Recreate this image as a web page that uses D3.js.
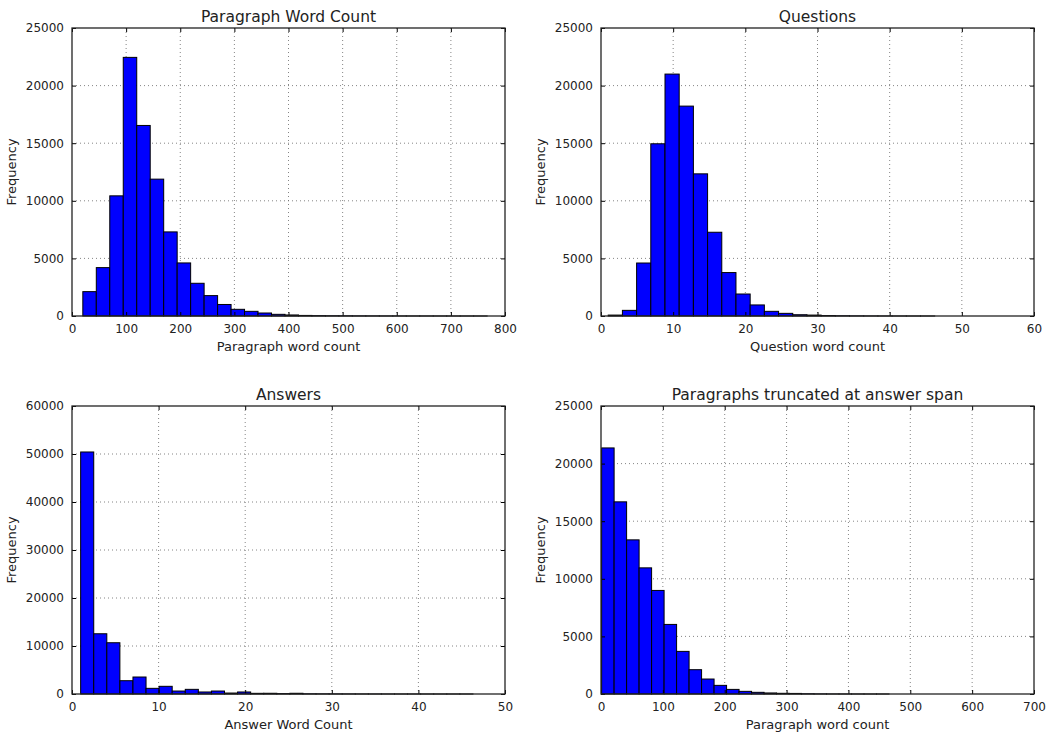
<!DOCTYPE html>
<html>
<head>
<meta charset="utf-8">
<script src="https://cdn.jsdelivr.net/npm/d3@7"></script>
<style>
  body { margin: 0; background: #fff; }
  svg text { font-family: "DejaVu Sans", sans-serif; fill: #222; }
</style>
</head>
<body>
<div id="chart"></div>
<script>
// histogram counts (30 bins each)
const paraCounts = [2115, 4200, 10430, 22450, 16540, 11880, 7300, 4606, 2840, 1770,
  1000, 580, 405, 260, 145, 90, 50, 30, 20, 15, 10, 8, 5, 4, 3, 2, 2, 1, 1, 1];
const questionCounts = [80, 490, 4600, 14950, 21000, 18220, 12340, 7270, 3770, 1910,
  960, 405, 230, 110, 80, 40, 20, 10, 5, 3, 2, 1, 1, 0, 0, 0, 0, 0, 0, 0];
const answerCounts = [50420, 12550, 10680, 2770, 3540, 1180, 1600, 620, 970, 420,
  620, 200, 420, 140, 150, 80, 150, 40, 30, 20, 15, 10, 8, 5, 4, 3, 2, 1, 1, 1];
const truncCounts = [21360, 16680, 13380, 10950, 8990, 6040, 3700, 2110, 1300, 750,
  400, 230, 145, 90, 60, 50, 20, 10, 5, 3, 2, 1, 1, 0, 0, 0, 0, 0, 0, 0];

// bin start and bin width per panel
const paraBins = [20, 24.9];
const questionBins = [1, 1.967];
const answerBins = [1, 1.51];
const truncBins = [1, 20.2];

const panels = [
  {title: "Paragraph Word Count", xlabel: "Paragraph word count", counts: paraCounts, bins: paraBins,
   xmax: 800, xticks: [0,100,200,300,400,500,600,700,800], ymax: 25000, yticks: [0,5000,10000,15000,20000,25000],
   left: 72, top: 28},
  {title: "Questions", xlabel: "Question word count", counts: questionCounts, bins: questionBins,
   xmax: 60, xticks: [0,10,20,30,40,50,60], ymax: 25000, yticks: [0,5000,10000,15000,20000,25000],
   left: 601, top: 28},
  {title: "Answers", xlabel: "Answer Word Count", counts: answerCounts, bins: answerBins,
   xmax: 50, xticks: [0,10,20,30,40,50], ymax: 60000, yticks: [0,10000,20000,30000,40000,50000,60000],
   left: 72, top: 406},
  {title: "Paragraphs truncated at answer span", xlabel: "Paragraph word count", counts: truncCounts, bins: truncBins,
   xmax: 700, xticks: [0,100,200,300,400,500,600,700], ymax: 25000, yticks: [0,5000,10000,15000,20000,25000],
   left: 601, top: 406}
];

const W = 1047, H = 734;
const pw = 433, ph = 288;

const svg = d3.select("#chart").append("svg")
  .attr("width", W)
  .attr("height", H);

panels.forEach(p => {
  const g = svg.append("g").attr("transform", "translate(" + p.left + "," + p.top + ")");

  const x = d3.scaleLinear().domain([0, p.xmax]).range([0, pw]);
  const y = d3.scaleLinear().domain([0, p.ymax]).range([ph, 0]);

  // dotted grid
  g.append("g").selectAll("line.vg").data(p.xticks.slice(1, -1)).join("line")
    .attr("x1", d => x(d)).attr("x2", d => x(d))
    .attr("y1", 0).attr("y2", ph)
    .attr("stroke", "#666").attr("stroke-width", 0.8).attr("stroke-dasharray", "1,3");
  g.append("g").selectAll("line.hg").data(p.yticks.slice(1, -1)).join("line")
    .attr("x1", 0).attr("x2", pw)
    .attr("y1", d => y(d)).attr("y2", d => y(d))
    .attr("stroke", "#666").attr("stroke-width", 0.8).attr("stroke-dasharray", "1,3");

  // bars
  const bins = p.counts.map((c, i) => ({x0: p.bins[0] + i * p.bins[1], x1: p.bins[0] + (i + 1) * p.bins[1], c: c}))
    .filter(d => d.c > 0);
  g.append("g").selectAll("rect").data(bins).join("rect")
    .attr("x", d => x(d.x0))
    .attr("width", d => x(d.x1) - x(d.x0))
    .attr("y", d => y(d.c))
    .attr("height", d => ph - y(d.c))
    .attr("fill", "#0000ff")
    .attr("stroke", "#000")
    .attr("stroke-width", 1);

  // axes with inward ticks
  const xb = g.append("g").attr("transform", "translate(0," + ph + ")")
    .call(d3.axisBottom(x).tickValues(p.xticks).tickSize(-4).tickPadding(8).tickFormat(d3.format("d")));
  const xt = g.append("g")
    .call(d3.axisTop(x).tickValues(p.xticks).tickSize(-4).tickFormat(""));
  const yl = g.append("g")
    .call(d3.axisLeft(y).tickValues(p.yticks).tickSize(-4).tickPadding(8).tickFormat(d3.format("d")));
  const yr = g.append("g").attr("transform", "translate(" + pw + ",0)")
    .call(d3.axisRight(y).tickValues(p.yticks).tickSize(-4).tickFormat(""));
  [xb, xt, yl, yr].forEach(a => {
    a.select(".domain").remove();
    a.selectAll(".tick line").attr("stroke", "#000");
    a.selectAll("text").attr("font-size", 12).attr("fill", "#222");
  });

  // frame
  g.append("rect").attr("width", pw).attr("height", ph)
    .attr("fill", "none").attr("stroke", "#222").attr("stroke-width", 1.3);

  g.append("text")
    .attr("x", pw / 2).attr("y", -6)
    .attr("text-anchor", "middle")
    .attr("font-size", 15.5)
    .text(p.title);

  g.append("text")
    .attr("x", pw / 2).attr("y", ph + 35)
    .attr("text-anchor", "middle")
    .attr("font-size", 13)
    .text(p.xlabel);

  g.append("text")
    .attr("transform", "translate(" + (-56) + "," + (ph / 2) + ") rotate(-90)")
    .attr("text-anchor", "middle")
    .attr("font-size", 13)
    .text("Frequency");
});
</script>
</body>
</html>
